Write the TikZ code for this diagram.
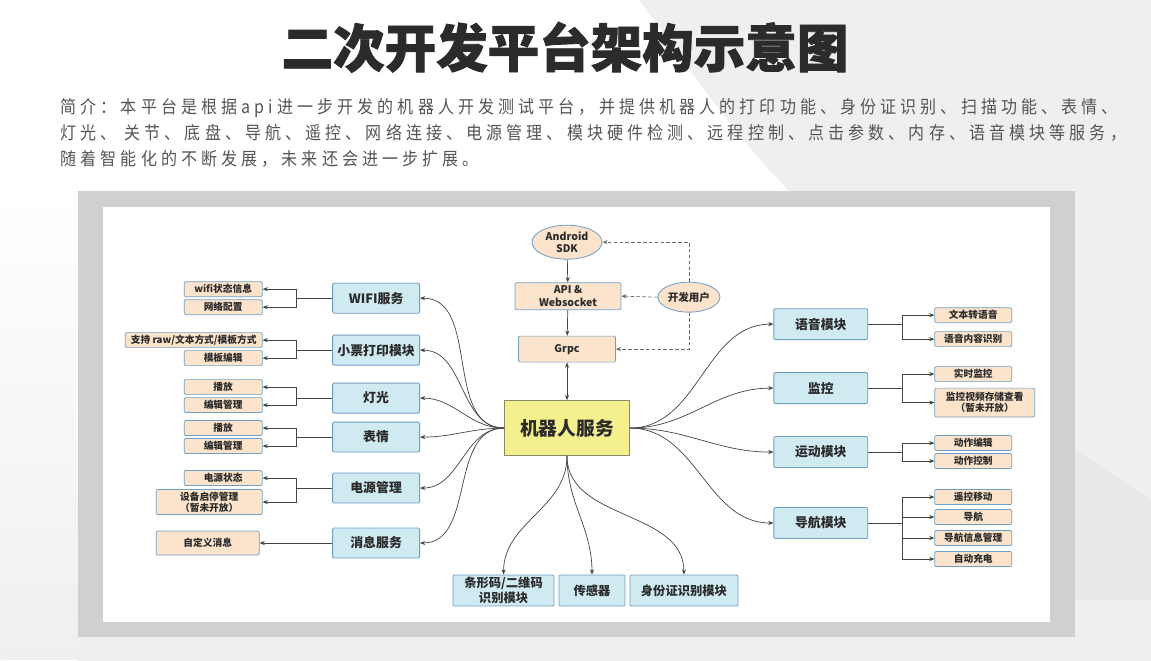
\documentclass[tikz,border=0pt]{standalone}
\usepackage{fontspec}
\setmainfont{Noto Sans CJK SC}
\newfontfamily\titlefont{Noto Sans CJK SC}[BoldFeatures={FakeBold=1.6}]
\newfontfamily\introfont{Noto Sans CJK SC}[LetterSpace=23, FakeStretch=0.9]
\usetikzlibrary{positioning,calc,shapes.geometric,arrows.meta}
\definecolor{modfill}{HTML}{D0EAF2}
\definecolor{modline}{HTML}{6F9FC6}
\definecolor{itemfill}{HTML}{FCE4CC}
\definecolor{corefill}{HTML}{F4F08E}
\definecolor{coreline}{HTML}{8A8A66}
\definecolor{wirecol}{HTML}{444444}
\definecolor{ink}{HTML}{2B2B2B}
\definecolor{introcol}{HTML}{555555}
\definecolor{panelcol}{HTML}{D0D0D0}
\definecolor{backcol}{HTML}{EEEFF1}

\begin{document}
\begin{tikzpicture}[x=0.03cm, y=0.03cm, >={Stealth[length=4.5pt,width=3.5pt]},
  every path/.style={draw=wirecol, line width=0.6pt},
  module/.style={draw=modline, fill=modfill, line width=0.7pt, rounded corners=1pt, align=center, inner sep=1pt, text=ink, font=\fontsize{11}{13}\selectfont\bfseries, minimum width=2.61cm, minimum height=0.9cm},
  rmodule/.style={module, minimum width=2.82cm, minimum height=0.93cm},
  bmodule/.style={module, minimum height=0.93cm, font=\fontsize{10.5}{12.5}\selectfont\bfseries},
  item/.style={draw=modline, fill=itemfill, line width=0.6pt, rounded corners=1pt, align=center, inner sep=1pt, text=ink, font=\fontsize{8.3}{9.6}\selectfont\bfseries, minimum width=2.34cm, minimum height=0.45cm},
  ritem/.style={item, minimum width=2.31cm},
  oval/.style={draw=modline, fill=itemfill, line width=0.7pt, ellipse, align=center, inner sep=0pt, text=ink, font=\fontsize{9}{10.5}\selectfont\bfseries},
  core/.style={draw=coreline, fill=corefill, line width=0.7pt, align=center, text=ink, font=\fontsize{16}{18}\selectfont\bfseries, minimum width=3.75cm, minimum height=1.65cm},
  flow/.style={dash pattern=on 3pt off 2pt, draw=wirecol!80}]
\useasboundingbox (0,0) rectangle (1151,-660);

% Background and panel
\fill[white] (0,0) rectangle (1151,-660);
\fill[backcol] (640,0) .. controls (690,-70) and (740,-140) .. (790,-191) -- (1151,-191) -- (1151,0) -- cycle;
\fill[backcol] (1075,-191) rectangle (1151,-660);
\fill[black!9] (1075,-450) -- (1151,-500) -- (1151,-600) -- (1075,-600) -- cycle;
\shade[draw=none, top color=white, bottom color=backcol] (0,-191) rectangle (78,-660);
\fill[backcol] (78,-636) rectangle (1075,-660);
\fill[panelcol] (78,-191) rectangle (1075,-636);
\fill[white] (103,-207) rectangle (1050,-621);

% Title and introduction
\node[text=ink, inner sep=0pt] (title) at (565,-47) {\titlefont\fontsize{44}{48}\selectfont\bfseries 二次开发平台架构示意图};
\node[anchor=west, align=left, inner sep=0pt, text=introcol, font=\introfont\fontsize{15.2}{22.2}\selectfont] (intro) at (60,-133)
  {简介：本平台是根据api进一步开发的机器人开发测试平台，并提供机器人的打印功能、身份证识别、扫描功能、表情、\\
   灯光、 关节、底盘、导航、遥控、网络连接、电源管理、模块硬件检测、远程控制、点击参数、内存、语音模块等服务，\\
   随着智能化的不断发展，未来还会进一步扩展。};

% Access chain
\node[oval, minimum width=2.1cm, minimum height=1.02cm] (android) at (567,-242) {Android\\SDK};
\node[item, minimum width=3.18cm, minimum height=0.81cm, font=\fontsize{9}{10.5}\selectfont\bfseries] (api) at (568,-296) {API \&\\Websocket};
\node[item, minimum width=2.91cm, minimum height=0.78cm, font=\fontsize{9}{10.5}\selectfont\bfseries] (grpc) at (567,-349) {Grpc};
\node[oval, minimum width=1.86cm, minimum height=0.9cm] (devuser) at (689,-297) {开发用户};
\node[core] (robot) at (567,-428) {机器人服务};

\draw[->] (android) -- (api);
\draw[->] (api) -- (grpc);
\draw[<->] (grpc) -- (robot);
\draw[flow, ->] (devuser.north) |- (android.east);
\draw[flow, ->] (devuser.west) -- (api.east);
\draw[flow, ->] (devuser.south) |- (grpc.east);

% Left modules
\node[module] (wifi) at (376,-298) {WIFI服务};
\node[module] (ticket) at (376,-350) {小票打印模块};
\node[module] (light) at (376,-398) {灯光};
\node[module] (face) at (376,-437) {表情};
\node[module] (power) at (376,-488) {电源管理};
\node[module] (message) at (376,-543) {消息服务};

\node[item] (wifistate) at (223,-289) {wifi状态信息};
\node[item] (wifinet) at (223,-307) {网络配置};
\node[item, minimum width=4.11cm] (ticketmode) at (193.5,-340) {支持 raw/文本方式/模板方式};
\node[item] (ticketedit) at (223,-358) {模板编辑};
\node[item] (lightplay) at (223,-387) {播放};
\node[item] (lightedit) at (223,-405) {编辑管理};
\node[item] (faceplay) at (223,-428) {播放};
\node[item] (faceedit) at (223,-446) {编辑管理};
\node[item] (powerstate) at (223,-478) {电源状态};
\node[item, minimum width=3.18cm, minimum height=0.75cm] (powerswitch) at (209,-502) {设备启停管理\\（暂未开放）};
\node[item, minimum width=3.09cm, minimum height=0.72cm] (custommsg) at (207.5,-543) {自定义消息};

% Right modules
\node[rmodule] (voice) at (821,-324) {语音模块};
\node[rmodule] (monitor) at (821,-388) {监控};
\node[rmodule] (motion) at (821,-452) {运动模块};
\node[rmodule] (navi) at (821,-523) {导航模块};

\node[ritem] (tts) at (973.5,-315) {文本转语音};
\node[ritem] (asr) at (973.5,-339) {语音内容识别};
\node[ritem] (live) at (973.5,-374) {实时监控};
\node[ritem, minimum width=3.0cm, minimum height=0.87cm] (record) at (985,-402.5) {监控视频存储查看\\（暂未开放）};
\node[ritem] (actedit) at (973.5,-443) {动作编辑};
\node[ritem] (actctrl) at (973.5,-461) {动作控制};
\node[ritem] (remote) at (973.5,-497) {遥控移动};
\node[ritem] (guide) at (973.5,-517) {导航};
\node[ritem] (naviinfo) at (973.5,-538) {导航信息管理};
\node[ritem] (charge) at (973.5,-559) {自动充电};

% Bottom modules
\node[bmodule, minimum width=3.03cm] (barcode) at (503.5,-590.5) {条形码/二维码\\识别模块};
\node[bmodule, minimum width=1.98cm] (sensor) at (592,-590.5) {传感器};
\node[bmodule, minimum width=3.24cm] (idcard) at (684,-590.5) {身份证识别模块};

% Robot service links
\foreach \m in {wifi,ticket,light,face,power,message}
  \draw[->] (robot.west) to[out=180, in=0] (\m.east);
\foreach \m in {voice,monitor,motion,navi}
  \draw[->] (robot.east) to[out=0, in=180] (\m.west);
\foreach \m in {barcode,sensor,idcard}
  \draw[->] (robot.south) to[out=-90, in=90] (\m.north);

% Left branches
\coordinate (wifisplit) at ($(wifi.west)+(-36,0)$);
\coordinate (ticketsplit) at ($(ticket.west)+(-36,0)$);
\coordinate (lightsplit) at ($(light.west)+(-36,0)$);
\coordinate (facesplit) at ($(face.west)+(-36,0)$);
\coordinate (powersplit) at ($(power.west)+(-36,0)$);
\draw (wifi.west) -- (wifisplit);
\draw[->] (wifisplit) |- (wifistate.east);
\draw[->] (wifisplit) |- (wifinet.east);
\draw (ticket.west) -- (ticketsplit);
\draw[->] (ticketsplit) |- (ticketmode.east);
\draw[->] (ticketsplit) |- (ticketedit.east);
\draw (light.west) -- (lightsplit);
\draw[->] (lightsplit) |- (lightplay.east);
\draw[->] (lightsplit) |- (lightedit.east);
\draw (face.west) -- (facesplit);
\draw[->] (facesplit) |- (faceplay.east);
\draw[->] (facesplit) |- (faceedit.east);
\draw (power.west) -- (powersplit);
\draw[->] (powersplit) |- (powerstate.east);
\draw[->] (powersplit) |- (powerswitch.east);
\draw[->] (message.west) -- (custommsg.east);

% Right branches
\coordinate (voicesplit) at ($(voice.east)+(34,0)$);
\coordinate (monitorsplit) at ($(monitor.east)+(34,0)$);
\coordinate (motionsplit) at ($(motion.east)+(34,0)$);
\coordinate (navisplit) at ($(navi.east)+(34,0)$);
\draw (voice.east) -- (voicesplit);
\draw[->] (voicesplit) |- (tts.west);
\draw[->] (voicesplit) |- (asr.west);
\draw (monitor.east) -- (monitorsplit);
\draw[->] (monitorsplit) |- (live.west);
\draw[->] (monitorsplit) |- (record.west);
\draw (motion.east) -- (motionsplit);
\draw[->] (motionsplit) |- (actedit.west);
\draw[->] (motionsplit) |- (actctrl.west);
\draw (navi.east) -- (navisplit);
\draw[->] (navisplit) |- (remote.west);
\draw[->] (navisplit) |- (guide.west);
\draw[->] (navisplit) |- (naviinfo.west);
\draw[->] (navisplit) |- (charge.west);
\end{tikzpicture}
\end{document}
